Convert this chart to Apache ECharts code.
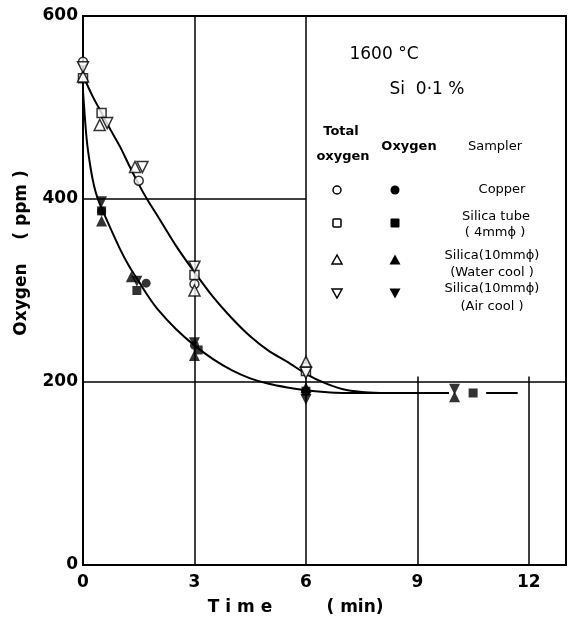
<!DOCTYPE html>
<html><head><meta charset="utf-8">
<script src="https://cdn.jsdelivr.net/npm/echarts@6/dist/echarts.min.js"></script>
<style>html,body{margin:0;padding:0;background:#fff}#c{width:570px;height:622px}</style>
</head><body><div id="c"></div><script>
// ---- data ----
const xTickValues = [0, 3, 6, 9, 12];
const yTickValues = [0, 200, 400, 600];
// Total oxygen (hollow markers)
const totalCopper    = [[0,550],[1.5,420],[3,307],[6,216]];
const totalTube      = [[0,532],[0.5,494],[3,317],[6,212]];
const totalWater     = [[0,534],[0.45,481],[1.4,435],[3,300],[6,222]];
const totalAir       = [[0,544],[0.65,483],[1.6,435],[3,326],[6,210]];
// Oxygen (filled markers)
const oxyCopper      = [[0.5,387],[1.7,308],[3,240],[6,190]];
const oxyTube        = [[0.5,387],[1.45,300],[3.1,235],[6,190],[10.5,188]];
const oxyWater       = [[0.5,376],[1.3,315],[3,229],[6,194],[10,184]];
const oxyAir         = [[0.5,397],[1.45,310],[3,243],[6,181],[10,192]];
// Fitted curves
const upperCurve = [[0,535],[0.25,513],[0.5,494],[0.75,475],[1,457],[1.25,436],[1.5,416],[1.75,398],[2,382],[2.5,349],[3,320],[3.5,293],[4,270],[4.5,250],[5,234],[5.5,222],[6,209],[6.5,199],[7,192],[7.5,189],[8,188]];
const lowerCurve = [[0,518],[0.1,465],[0.2,435],[0.3,414],[0.4,400],[0.5,390],[0.75,367],[1,345],[1.25,326],[1.5,310],[1.75,294],[2,280],[2.5,258],[3,240],[3.5,225],[4,213],[4.5,204],[5,198],[5.5,194],[6,191],[6.5,189],[7,188],[9.85,188]];
const tailLine   = [[10.85,188],[11.7,188]];

const FONT = 'DejaVu Sans';
const hollow = {color:'#fff', borderColor:'#000', borderWidth:1.5};
const filled = {color:'#000'};
function sc(name, data, symbol, style, rot){
  return {type:'scatter', name, data, symbol, symbolSize: symbol==='circle'?9:(symbol==='rect'?9:11),
    symbolRotate: rot||0, itemStyle: style, z: 5};
}
const lineStyle = {color:'#000', width:2};
function txt(x,y,text,font,extra){
  return Object.assign({type:'text', x, y, style:{text, font, fill:'#000', textAlign:'center', textVerticalAlign:'middle'}}, extra||{});
}

const chart = echarts.init(document.getElementById('c'));
chart.setOption({
  animation:false,
  backgroundColor:'#fff',
  grid:{left:83, right:4, top:16, bottom:57, show:true, borderColor:'#000', borderWidth:2},
  xAxis:{type:'value', min:0, max:13, interval:3,
    axisLine:{lineStyle:{color:'#000', width:2}}, axisTick:{show:false}, splitLine:{show:false},
    axisLabel:{color:'#000', fontFamily:FONT, fontSize:17, fontWeight:'bold', margin:9,
      formatter:v=> xTickValues.includes(v)? String(v):''}},
  yAxis:{type:'value', min:0, max:600, interval:200,
    axisLine:{lineStyle:{color:'#000', width:2}}, axisTick:{show:false}, splitLine:{show:false},
    axisLabel:{color:'#000', fontFamily:FONT, fontSize:17, fontWeight:'bold', margin:5,
      formatter:v=> yTickValues.includes(v)? String(v):''}},
  series:[
    {type:'line', data:upperCurve, smooth:0.3, symbol:'none', lineStyle, z:2,
      markLine:{silent:true, symbol:'none', label:{show:false}, lineStyle:{color:'#000', width:1.5, type:'solid'},
        data:[
          [{coord:[0,200]},{coord:[13,200]}],
          [{coord:[0,400]},{coord:[6,400]}],
          [{coord:[3,0]},{coord:[3,600]}],
          [{coord:[6,0]},{coord:[6,600]}],
          [{coord:[9,0]},{coord:[9,206]}],
          [{coord:[12,0]},{coord:[12,206]}]
        ]}},
    {type:'line', data:lowerCurve, smooth:0.3, symbol:'none', lineStyle, z:2},
    {type:'line', data:tailLine, symbol:'none', lineStyle, z:2},
    sc('Total Copper', totalCopper, 'circle', hollow),
    sc('Total Silica tube', totalTube, 'rect', hollow),
    sc('Total Water', totalWater, 'triangle', hollow),
    sc('Total Air', totalAir, 'triangle', hollow, 180),
    sc('Oxygen Copper', oxyCopper, 'circle', filled),
    sc('Oxygen Silica tube', oxyTube, 'rect', filled),
    sc('Oxygen Water', oxyWater, 'triangle', filled),
    sc('Oxygen Air', oxyAir, 'triangle', filled, 180)
  ],
  graphic:[
    txt(240,608,'T i m e','bold 17px "DejaVu Sans"'),
    txt(355,608,'( min)','bold 17px "DejaVu Sans"'),
    txt(22,253,'Oxygen    ( ppm )','bold 17px "DejaVu Sans"',{rotation:Math.PI/2}),
    txt(384,55,'1600 °C','17px "DejaVu Sans"'),
    txt(427,90,'Si  0·1 %','17px "DejaVu Sans"'),
    txt(341,132,'Total','bold 13px "DejaVu Sans"'),
    txt(343,157,'oxygen','bold 13px "DejaVu Sans"'),
    txt(409,147,'Oxygen','bold 13px "DejaVu Sans"'),
    txt(495,147,'Sampler','13px "DejaVu Sans"'),
    txt(502,190,'Copper','13px "DejaVu Sans"'),
    txt(496,217,'Silica tube','13px "DejaVu Sans"'),
    txt(495,233,'( 4mmϕ )','13px "DejaVu Sans"'),
    txt(492,256,'Silica(10mmϕ)','13px "DejaVu Sans"'),
    txt(492,273,'(Water cool )','13px "DejaVu Sans"'),
    txt(492,289,'Silica(10mmϕ)','13px "DejaVu Sans"'),
    txt(492,307,'(Air cool )','13px "DejaVu Sans"'),
    // legend symbols
    {type:'circle', shape:{cx:337, cy:190, r:4}, style:{fill:'#fff', stroke:'#000', lineWidth:1.5}},
    {type:'circle', shape:{cx:395, cy:190, r:4.5}, style:{fill:'#000'}},
    {type:'rect', shape:{x:333, y:219, width:8, height:8, r:1}, style:{fill:'#fff', stroke:'#000', lineWidth:1.5}},
    {type:'rect', shape:{x:390.5, y:218.5, width:9, height:9, r:1}, style:{fill:'#000'}},
    {type:'polygon', shape:{points:[[337,255],[332,264],[342,264]]}, style:{fill:'#fff', stroke:'#000', lineWidth:1.5}},
    {type:'polygon', shape:{points:[[395,254.5],[389.5,264.5],[400.5,264.5]]}, style:{fill:'#000'}},
    {type:'polygon', shape:{points:[[332,289],[342,289],[337,298]]}, style:{fill:'#fff', stroke:'#000', lineWidth:1.5}},
    {type:'polygon', shape:{points:[[389.5,288.5],[400.5,288.5],[395,298.5]]}, style:{fill:'#000'}}
  ]
});
</script></body></html>
